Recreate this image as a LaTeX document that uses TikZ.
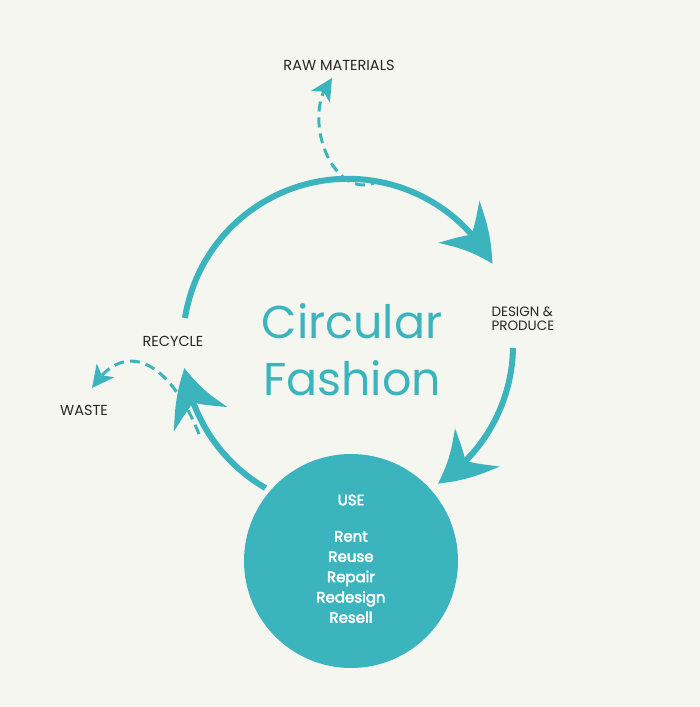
\documentclass[tikz,border=0pt]{standalone}
\usepackage{fontspec}
\setmainfont{Poppins}
\newfontfamily\heavyfont{Poppins}[FakeBold=3]
\usetikzlibrary{arrows.meta, bending}
\definecolor{fashionteal}{HTML}{3BB4BD}
\definecolor{paper}{HTML}{F5F6F0}

\begin{document}
\begin{tikzpicture}[x=1pt, y=1pt,
  cycle arrow/.style={fashionteal, line width=6pt, -{Stealth[length=54pt, width=58pt, inset=18pt, bend]}},
  side arrow/.style={fashionteal, line width=3pt, dash pattern=on 10pt off 6pt, -{Stealth[length=22pt, width=22pt, inset=6pt]}},
  stage/.style={font=\fontsize{14.5}{16}\selectfont, text=black!85},
  inuse/.style={font=\heavyfont\fontsize{15}{20.3}\selectfont, text=white, align=center}]

  % Background
  \fill[paper] (0,0) rectangle (700,707);
  \useasboundingbox (0,0) rectangle (700,707);

  % Use circle
  \node[circle, fill=fashionteal, minimum size=214pt, inner sep=0pt] (use) at (351,146) {};
  \node[inuse] (usetitle) at (351,207) {USE};
  \node[inuse] (uselist) at (351,130) {Rent\\Reuse\\Repair\\Redesign\\Resell};

  % Title
  \node[fashionteal, font=\fontsize{46}{57}\selectfont, align=center] (title) at (352,357) {Circular\\Fashion};

  % Stage labels
  \node[stage] (raw) at (339,642) {RAW MATERIALS};
  \node[stage, anchor=west, align=left, font=\fontsize{13.5}{14}\selectfont] (design) at (488,388) {DESIGN \&\\PRODUCE};
  \node[stage] (recycle) at (173,366) {RECYCLE};
  \node[stage] (waste) at (84,297) {WASTE};

  % Cycle arcs (centre 348,362)
  \coordinate (topstart) at (185,389);
  \coordinate (rightstart) at (513,359);
  \coordinate (leftstart) at (265.5,219);
  \draw[cycle arrow] (topstart) arc[start angle=171, end angle=29, radius=165];
  \draw[cycle arrow] (rightstart) arc[start angle=-1, end angle=-57, radius=165];
  \draw[cycle arrow] (leftstart) arc[start angle=240, end angle=188, radius=165];

  % Dashed side arrows
  \coordinate (rawstart) at (380,527);
  \coordinate (rawtip) at (332,629);
  \coordinate (wastestart) at (199,273);
  \coordinate (wastetip) at (92,319);
  \draw[side arrow] (rawstart) .. controls (335,500) and (298,590) .. (rawtip);
  \draw[side arrow] (wastestart) .. controls (170,345) and (125,370) .. (wastetip);

\end{tikzpicture}
\end{document}
